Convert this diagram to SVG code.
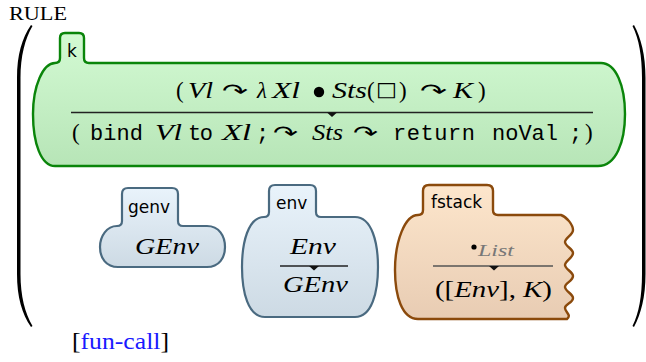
<svg xmlns="http://www.w3.org/2000/svg" xmlns:xlink="http://www.w3.org/1999/xlink" width="646" height="362" viewBox="0 0 646 362">
<defs>
<linearGradient id="gGreen" x1="0" y1="0" x2="0" y2="1">
<stop offset="0" stop-color="#d3fad3"/><stop offset="1" stop-color="#b7e5b7"/>
</linearGradient>
<linearGradient id="gBlue" x1="0" y1="0" x2="0" y2="1">
<stop offset="0" stop-color="#e9f3fb"/><stop offset="1" stop-color="#cddae4"/>
</linearGradient>
<linearGradient id="gOrange" x1="0" y1="0" x2="0" y2="1">
<stop offset="0" stop-color="#fde6cc"/><stop offset="1" stop-color="#e8ccb3"/>
</linearGradient>
<path id="tri" d="M -5,0 L 5,0 L 0,4.5 Z" fill="#111"/>
</defs>
<style>
.lbl{font-family:"DejaVu Sans",sans-serif;font-size:17px;fill:#000}
.m{font-family:"Liberation Serif",serif;font-style:italic;font-size:23px;fill:#000}
.r{font-family:"Liberation Serif",serif;font-size:23px;fill:#000}
.tt{font-family:"Liberation Mono",monospace;font-size:22px;fill:#000}
.sym{font-family:"DejaVu Sans",sans-serif;font-size:20px;fill:#000}
.rule{stroke:#222;stroke-width:1.3}
.kcell{fill:url(#gGreen);stroke:#0a850a;stroke-width:2.4}
.bcell{fill:url(#gBlue);stroke:#4a6a80;stroke-width:2.2}
.ocell{fill:url(#gOrange);stroke:#8b4a0c;stroke-width:2.4}
</style>

<g id="rule-frame">
<text x="9" y="20" font-family="Liberation Serif, serif" font-size="19" textLength="58" lengthAdjust="spacingAndGlyphs">RULE</text>
<path d="M 31,25 C 22,38 17,55 17,78 L 17,274 C 17,297 22,314 31,327 L 32.5,326 C 25,313 20.5,296 20.5,274 L 20.5,78 C 20.5,56 25,39 32.5,26 Z" fill="#000"/>
<path d="M 634,25 C 641,38 645.5,55 645.5,78 L 645.5,274 C 645.5,297 641,314 634,327 L 632.5,326 C 639,313 642,296 642,274 L 642,78 C 642,56 639,39 632.5,26 Z" fill="#000"/>
<text x="72" y="349" font-family="Liberation Serif, serif" font-size="23" textLength="97" lengthAdjust="spacingAndGlyphs"><tspan fill="#000">[</tspan><tspan fill="#1a1aff">fun-call</tspan><tspan fill="#000">]</tspan></text>
</g>

<g id="connectors"/>

<g id="cell-k">
<path class="kcell" d="M 60,38 Q 60,33 65,33 L 79,33 Q 84,33 84,38 L 84,58 Q 84,63 89,63 L 601,63 C 616,63 625,86 625,114 C 625,142 616,166 598,166 L 55,166 C 41,166 33,143 33,114 C 33,86 43,63 55,63 Q 60,63 60,58 Z"/>
<text class="lbl" x="67" y="57">k</text>
<text class="r" x="176" y="98">(</text>
<text class="m" x="188" y="98" textLength="25" lengthAdjust="spacingAndGlyphs">Vl</text>
<text class="sym" x="222" y="98" textLength="26" lengthAdjust="spacingAndGlyphs">↷</text>
<text class="m" x="257" y="98">λ</text>
<text class="m" x="272" y="98" textLength="28" lengthAdjust="spacingAndGlyphs">Xl</text>
<circle cx="319" cy="92" r="5.2" fill="#000"/>
<text class="m" x="332" y="98" textLength="35" lengthAdjust="spacingAndGlyphs">Sts</text>
<text class="r" x="367" y="98">(</text>
<text class="sym" x="376" y="96" font-size="29" textLength="21" lengthAdjust="spacingAndGlyphs">□</text>
<text class="r" x="399" y="98">)</text>
<text class="sym" x="420" y="98" textLength="27" lengthAdjust="spacingAndGlyphs">↷</text>
<text class="m" x="453" y="98" textLength="20" lengthAdjust="spacingAndGlyphs">K</text>
<text class="r" x="478" y="98">)</text>
<line class="rule" x1="71" y1="112.5" x2="593" y2="112.5"/>
<use xlink:href="#tri" x="332" y="112.5"/>
<text class="r" x="72" y="140">(</text>
<text class="tt" x="90" y="140" textLength="53" lengthAdjust="spacing">bind</text>
<text class="m" x="155" y="140" textLength="27" lengthAdjust="spacingAndGlyphs">Vl</text>
<text class="tt" x="188" y="140" textLength="25" lengthAdjust="spacing">to</text>
<text class="m" x="222" y="140" textLength="29" lengthAdjust="spacingAndGlyphs">Xl</text>
<text class="tt" x="256" y="140">;</text>
<text class="sym" x="273" y="140" textLength="25" lengthAdjust="spacingAndGlyphs">↷</text>
<text class="m" x="312" y="140" textLength="31" lengthAdjust="spacingAndGlyphs">Sts</text>
<text class="sym" x="353" y="140" textLength="25" lengthAdjust="spacingAndGlyphs">↷</text>
<text class="tt" x="393" y="140" textLength="82" lengthAdjust="spacing">return</text>
<text class="tt" x="492" y="140" textLength="66" lengthAdjust="spacing">noVal</text>
<text class="tt" x="569" y="140">;</text>
<text class="r" x="585" y="140">)</text>
</g>

<g id="cell-genv">
<path class="bcell" d="M 122,194 Q 122,188 128,188 L 172,188 Q 178,188 178,194 L 178,221 Q 178,226 183,226 L 207,226 C 219,226 225,236 225,247 C 225,258 219,267 207,267 L 118,267 C 106,267 100,258 100,247 C 100,236 107,226 117,226 Q 122,226 122,221 Z"/>
<text class="lbl" x="128" y="213">genv</text>
<text class="m" x="135" y="254" textLength="64" lengthAdjust="spacingAndGlyphs">GEnv</text>
</g>

<g id="cell-env">
<path class="bcell" d="M 269,191 Q 269,185 275,185 L 310,185 Q 316,185 316,191 L 316,212 Q 316,217 321,217 L 355,217 C 372,217 378,243 378,267 C 378,292 372,317 355,317 L 265,317 C 248,317 242,292 242,267 C 242,243 248,217 264,217 Q 269,217 269,212 Z"/>
<text class="lbl" x="276" y="209">env</text>
<text class="m" x="290" y="254" textLength="46" lengthAdjust="spacingAndGlyphs">Env</text>
<line class="rule" x1="280" y1="266" x2="348" y2="266"/>
<use xlink:href="#tri" x="314" y="266"/>
<text class="m" x="283" y="292" textLength="65" lengthAdjust="spacingAndGlyphs">GEnv</text>
</g>

<g id="cell-fstack">
<path class="ocell" d="M 423,191 Q 423,185 429,185 L 487,185 Q 493,185 493,191 L 493,210 Q 493,215 498,215 L 561,215 C 567,217 573,225 573,230 C 573,235 565,238 565,242 C 565,246 573,249 573,253 C 573,258 565,261 565,265 C 565,269 573,272 573,276 C 573,281 565,283 565,287 C 565,291 573,294 573,298 C 573,303 565,304 565,308 C 565,312 572,315 567,319 L 418,319 C 402,319 395,296 395,270 C 395,241 405,215 418,215 Q 423,215 423,210 Z"/>
<text class="lbl" x="431" y="208">fstack</text>
<circle cx="474" cy="247" r="2.6" fill="#000"/>
<text x="478" y="256" font-family="Liberation Serif, serif" font-style="italic" font-size="16" fill="#777" textLength="36" lengthAdjust="spacingAndGlyphs">List</text>
<line x1="433" y1="266" x2="553" y2="266" stroke="#555" stroke-width="1.3"/>
<use xlink:href="#tri" x="494" y="266"/>
<text x="435" y="297" font-family="Liberation Serif, serif" font-size="23" textLength="117" lengthAdjust="spacingAndGlyphs">([<tspan font-style="italic">Env</tspan>], <tspan font-style="italic">K</tspan>)</text>
</g>
</svg>
